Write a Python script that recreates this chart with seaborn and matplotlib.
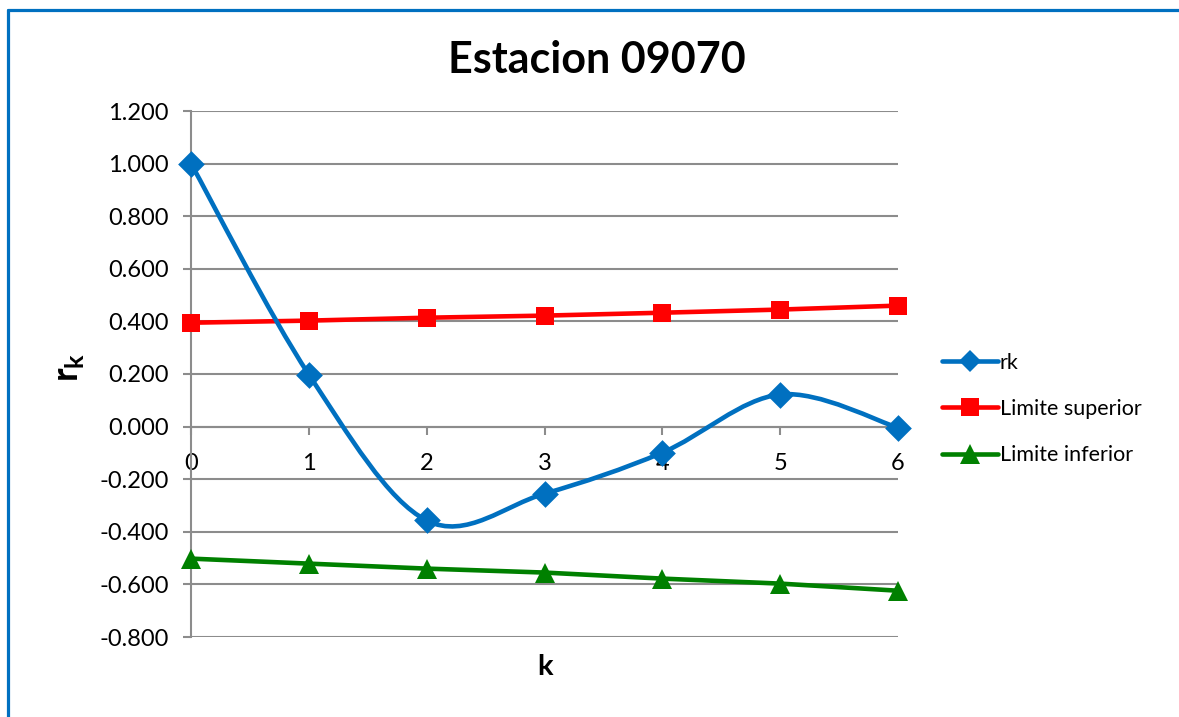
import numpy as np
import matplotlib
matplotlib.use("Agg")
import matplotlib.pyplot as plt
from matplotlib.path import Path
from matplotlib.patches import PathPatch
from matplotlib.lines import Line2D
import seaborn as sns
import pandas as pd

# ---- data ----
k = [0, 1, 2, 3, 4, 5, 6]
rk = [1.000, 0.198, -0.357, -0.255, -0.099, 0.122, -0.004]
lim_sup = [0.395, 0.403, 0.414, 0.422, 0.433, 0.445, 0.460]
lim_inf = [-0.502, -0.521, -0.540, -0.555, -0.578, -0.597, -0.624]
series_names = ["rk", "Limite superior", "Limite inferior"]
title = "Estacion 09070"
yticks = [-0.8, -0.6, -0.4, -0.2, 0.0, 0.2, 0.4, 0.6, 0.8, 1.0, 1.2]

BLUE = "#0070C0"
RED = "#FF0000"
GREEN = "#008000"
GRID = "#8C8C8C"

sns.set_theme(style="white")
plt.rcParams["font.family"] = ["Lato", "DejaVu Sans"]
plt.rcParams["mathtext.fontset"] = "custom"
plt.rcParams["mathtext.bf"] = "Lato:bold"
plt.rcParams["mathtext.rm"] = "Lato"
plt.rcParams["text.color"] = "black"
plt.rcParams["xtick.color"] = GRID
plt.rcParams["ytick.color"] = GRID
plt.rcParams["xtick.labelcolor"] = "black"
plt.rcParams["ytick.labelcolor"] = "black"

W, H = 1179, 717
fig = plt.figure(figsize=(W / 100, H / 100), dpi=100)
ax = fig.add_axes([191 / W, 1 - 637 / H, (898 - 191) / W, (637 - 111) / H])

df = pd.DataFrame({"k": k, "sup": lim_sup, "inf": lim_inf, "rk": rk})

LW = 3.3
# limits
sns.lineplot(data=df, x="k", y="sup", ax=ax, color=RED, lw=LW, marker="s",
             markersize=13.5, markeredgewidth=0, zorder=4)
sns.lineplot(data=df, x="k", y="inf", ax=ax, color=GREEN, lw=LW, marker="^",
             markersize=14, markeredgewidth=0, zorder=4)

# smoothed rk curve (Bezier rendering through the data points)
x = np.array(k, float)
y = np.array(rk, float)
n = len(x)
verts = [(x[0], y[0])]
codes = [Path.MOVETO]
for i in range(n - 1):
    x0, y0 = (x[i - 1], y[i - 1]) if i > 0 else (x[i], y[i])
    x3, y3 = (x[i + 2], y[i + 2]) if i + 2 < n else (x[i + 1], y[i + 1])
    c1 = (x[i] + (x[i + 1] - x0) / 6, y[i] + (y[i + 1] - y0) / 6)
    c2 = (x[i + 1] - (x3 - x[i]) / 6, y[i + 1] - (y3 - y[i]) / 6)
    verts += [c1, c2, (x[i + 1], y[i + 1])]
    codes += [Path.CURVE4] * 3
ax.add_patch(PathPatch(Path(verts, codes), fill=False, edgecolor=BLUE, lw=LW,
                       capstyle="round", joinstyle="round", zorder=5))
sns.scatterplot(data=df, x="k", y="rk", ax=ax, color=BLUE, marker="D", s=185,
                linewidth=0, zorder=6)

# axes styling
for s in ["top", "right"]:
    ax.spines[s].set_visible(False)
ax.spines["bottom"].set_position(("data", 0))
ax.spines["left"].set_color(GRID)
ax.spines["left"].set_linewidth(1.5)
ax.spines["bottom"].set_color(GRID)
ax.spines["bottom"].set_linewidth(1.5)

ax.set_xlim(0, 6)
ax.set_ylim(-0.8, 1.2)
ax.set_yticks(yticks)
ax.set_yticklabels([f"{v:.3f}" for v in yticks], fontsize=17, color="black")
ax.set_xticks(k)
ax.set_xticklabels([str(v) for v in k], fontsize=17, color="black")
ax.yaxis.grid(True, color=GRID, lw=1.5)
ax.xaxis.grid(False)
ax.tick_params(axis="y", direction="out", length=6, width=1.5, color=GRID, pad=10,
               left=True)
ax.tick_params(axis="x", direction="out", length=6, width=1.5, color=GRID, pad=13,
               bottom=True)
ax.set_xlabel("")
ax.set_ylabel("")
for art in ax.lines + ax.collections + ax.patches:
    art.set_clip_on(False)

fig.text(545 / W, 1 - 667 / H, "k", fontsize=21, fontweight="bold",
         ha="center", va="center", color="black")
fig.text(70 / W, 1 - 367 / H, r"$\mathbf{r}_{\mathbf{k}}$", fontsize=26,
         rotation=90, ha="center", va="center", color="black")
fig.text(597 / W, 1 - 60 / H, title, fontsize=31, fontweight="bold",
         ha="center", va="center", color="black")

handles = [
    Line2D([], [], color=BLUE, lw=LW, marker="D", markersize=11.5, markeredgewidth=0),
    Line2D([], [], color=RED, lw=LW, marker="s", markersize=13.5, markeredgewidth=0),
    Line2D([], [], color=GREEN, lw=LW, marker="^", markersize=14, markeredgewidth=0),
]
leg = fig.legend(handles, series_names, loc="center left",
                 bbox_to_anchor=(931 / W, 1 - 409 / H), frameon=False, fontsize=15.5,
                 handlelength=2.6, handletextpad=0.1, labelspacing=1.22, borderpad=0)
for t in leg.get_texts():
    t.set_color("black")

# outer chart frame (partially visible)
fy = 1 - 10 / H
fx = 8 / W
fig.add_artist(Line2D([fx, fx], [0, fy], color=BLUE, lw=2.3, transform=fig.transFigure))
fig.add_artist(Line2D([fx, 1.0], [fy, fy], color=BLUE, lw=2.3, transform=fig.transFigure))

fig.savefig("out.png", dpi=100)
